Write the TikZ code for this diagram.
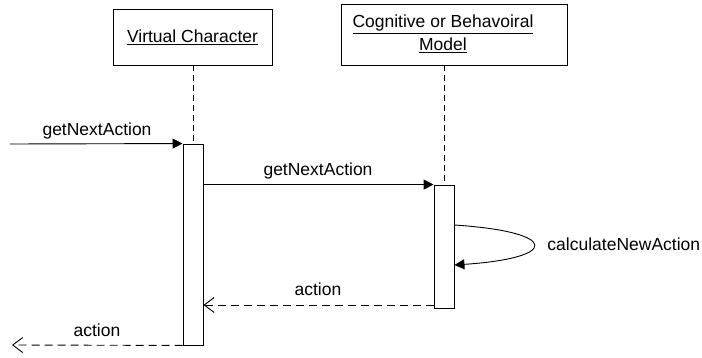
\documentclass[tikz,border=0pt]{standalone}
\usepackage{fontspec}
\setmainfont{Liberation Sans}
\usetikzlibrary{arrows.meta}
\begin{document}
\begin{tikzpicture}[x=1pt,y=-1pt, line width=0.9pt,
  txt/.style={font=\fontsize{17.5}{23}\selectfont, inner sep=0pt},
  objbox/.style={draw, rectangle, inner sep=0pt, align=center},
  actbox/.style={draw, fill=white, rectangle, inner sep=0pt, minimum width=20pt},
  life/.style={dash pattern=on 6pt off 4pt},
  call/.style={-{Triangle[length=10pt,width=10pt]}},
  ret/.style={dash pattern=on 8pt off 5pt, -{Straight Barb[length=10pt,width=15pt]}}]
\useasboundingbox (0,0) rectangle (702,358);
% objects
\node[objbox, txt, minimum width=159pt, minimum height=56pt] (vc) at (192.5,37) {\underline{Virtual Character}};
\node[objbox, minimum width=226pt, minimum height=61pt] (cm) at (454,34.5) {};
\node[txt, align=center] (cmt) at (443,34) {\underline{Cognitive or Behavoiral}\\\underline{Model}};
% activations
\node[actbox, minimum height=201pt] (act1) at (193,244.5) {};
\node[actbox, minimum height=123pt] (act2) at (444,246.5) {};
% lifelines
\draw[life] (act1.north |- vc.south) -- (act1.north);
\draw[life] (act2.north |- cm.south) -- (act2.north);
% messages
\coordinate (in1) at (10,144);
\coordinate (out1) at (12,345);
\draw[call] (in1) -- (act1.north west);
\node[txt, anchor=base] (m1) at (97,136) {getNextAction};
\draw[call] (act1.east |- act2.north) -- (act2.north west);
\node[txt, anchor=base] (m2) at (318,176) {getNextAction};
\draw[call] (act2.east |- 0,225) .. controls (560,232) and (560,258) .. (act2.east |- 0,265);
\node[txt, anchor=base west] (m3) at (547,251) {calculateNewAction};
\draw[ret] (act2.west |- 0,305) -- (act1.east |- 0,305);
\node[txt, anchor=base] (m4) at (318,296) {action};
\draw[ret] (act1.south west) -- (out1);
\node[txt, anchor=base] (m5) at (97,337) {action};
\end{tikzpicture}
\end{document}
